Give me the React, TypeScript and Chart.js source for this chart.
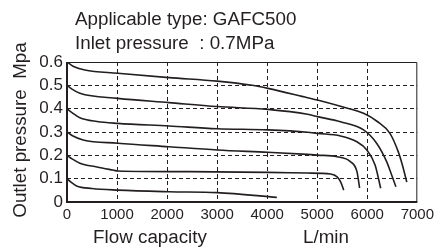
import React, { useEffect, useRef } from "react";
import { Chart, registerables } from "chart.js";

Chart.register(...registerables);

const INK = "#231f20";
const FAMILY = "'Liberation Sans', Arial, sans-serif";

const titleLine1 = "Applicable type: GAFC500";
const titleLine2 = "Inlet pressure  : 0.7MPa";
const yTitle = "Outlet pressure  Mpa";
const xTitle = "Flow capacity";
const xUnit = "L/min";

const xTicks = [0, 1000, 2000, 3000, 4000, 5000, 6000, 7000];
const yTicks = [0, 0.1, 0.2, 0.3, 0.4, 0.5, 0.6];

const set06X = [0, 120, 356, 1015, 2037, 3000, 3700, 4014, 4805, 5003, 5500, 5926, 6200, 6453, 6618, 6700, 6790];
const set06Y = [0.6, 0.582, 0.566, 0.552, 0.533, 0.518, 0.5, 0.487, 0.447, 0.437, 0.408, 0.38, 0.345, 0.294, 0.216, 0.16, 0.085];

const set05X = [0, 100, 257, 1015, 2037, 3000, 4014, 4805, 5003, 5464, 5926, 6190, 6387, 6480, 6572];
const set05Y = [0.5, 0.484, 0.466, 0.444, 0.426, 0.409, 0.397, 0.376, 0.366, 0.344, 0.309, 0.251, 0.173, 0.12, 0.065];

const set04X = [0, 100, 257, 600, 1015, 2037, 3000, 4014, 4805, 5003, 5464, 5794, 5992, 6156, 6268];
const set04Y = [0.4, 0.383, 0.361, 0.345, 0.337, 0.326, 0.314, 0.309, 0.299, 0.294, 0.283, 0.258, 0.223, 0.159, 0.059];

const set03X = [0, 100, 323, 1015, 2037, 3000, 4014, 4805, 5003, 5398, 5662, 5794, 5847];
const set03Y = [0.3, 0.285, 0.266, 0.252, 0.237, 0.223, 0.213, 0.204, 0.201, 0.194, 0.173, 0.13, 0.06];

const set02X = [0, 100, 257, 600, 915, 1015, 2432, 4014, 4805, 5266, 5398, 5470, 5530];
const set02Y = [0.2, 0.185, 0.166, 0.15, 0.137, 0.133, 0.13, 0.127, 0.124, 0.12, 0.108, 0.085, 0.051];

const set01X = [0, 80, 191, 500, 1015, 2037, 3000, 4192];
const set01Y = [0.1, 0.085, 0.069, 0.058, 0.051, 0.044, 0.04, 0.02];

const seriesX = [set06X, set05X, set04X, set03X, set02X, set01X];
const seriesY = [set06Y, set05Y, set04Y, set03Y, set02Y, set01Y];
const seriesNames = ["0.6", "0.5", "0.4", "0.3", "0.2", "0.1"];

export default function App() {
  const ref = useRef<HTMLCanvasElement>(null);

  useEffect(() => {
    if (!ref.current) return;

    const decor = {
      id: "decor",
      afterDatasetsDraw(chart: any) {
        const ctx = chart.ctx;
        const a = chart.chartArea;
        ctx.save();
        ctx.strokeStyle = INK;
        ctx.setLineDash([]);
        ctx.lineWidth = 1;
        ctx.beginPath();
        ctx.moveTo(a.left, a.top + 0.5);
        ctx.lineTo(a.right - 0.5, a.top + 0.5);
        ctx.lineTo(a.right - 0.5, a.bottom);
        ctx.stroke();
        ctx.lineWidth = 2;
        ctx.beginPath();
        ctx.moveTo(a.left, a.top);
        ctx.lineTo(a.left, a.bottom);
        ctx.lineTo(a.right, a.bottom);
        ctx.stroke();
        ctx.restore();
      },
      afterDraw(chart: any) {
        const ctx = chart.ctx;
        ctx.save();
        ctx.fillStyle = INK;
        ctx.font = "18.8px " + FAMILY;
        ctx.textAlign = "left";
        ctx.textBaseline = "alphabetic";
        ctx.fillText(titleLine1, 75, 25);
        ctx.fillText(titleLine2, 75, 49);
        ctx.textAlign = "center";
        ctx.fillText(xTitle, 150, 243);
        ctx.fillText(xUnit, 326, 243);
        ctx.translate(26, 130);
        ctx.rotate(-Math.PI / 2);
        ctx.fillText(yTitle, 0, 0);
        ctx.restore();
      },
    };

    const gridColor = (c: any) => {
      const v = c.tick ? c.tick.value : null;
      return v === 0 || v === 7000 || v === 0.6 ? "rgba(0,0,0,0)" : INK;
    };

    const chart = new Chart(ref.current, {
      type: "line",
      data: {
        datasets: seriesX.map((xs, i) => ({
          label: seriesNames[i],
          data: xs.map((x, j) => ({ x, y: seriesY[i][j] })),
          borderColor: INK,
          borderWidth: 1.6,
          pointRadius: 0,
          fill: false,
          cubicInterpolationMode: "monotone" as const,
        })),
      },
      options: {
        responsive: false,
        animation: false,
        devicePixelRatio: 1,
        layout: { padding: { top: 62, right: 17, left: 0, bottom: 0 } },
        plugins: {
          legend: { display: false },
          tooltip: { enabled: false },
          title: { display: false },
        },
        scales: {
          x: {
            type: "linear",
            min: 0,
            max: 7000,
            afterBuildTicks: (s: any) => {
              s.ticks = xTicks.map((v) => ({ value: v }));
            },
            afterFit: (s: any) => {
              s.height = 49;
            },
            ticks: {
              color: INK,
              font: { size: 15, family: FAMILY },
              padding: 4,
              maxRotation: 0,
              autoSkip: false,
              callback: (v: any) => String(v),
            },
            grid: { color: gridColor, lineWidth: 1, drawTicks: false },
            border: { display: false, dash: [4, 3] },
          },
          y: {
            type: "linear",
            min: 0,
            max: 0.6,
            afterBuildTicks: (s: any) => {
              s.ticks = yTicks.map((v) => ({ value: v }));
            },
            afterFit: (s: any) => {
              s.width = 67;
            },
            ticks: {
              color: INK,
              font: { size: 17, family: FAMILY },
              padding: 4,
              autoSkip: false,
              callback: (v: any) => (Number(v) === 0 ? "0" : Number(v).toFixed(1)),
            },
            grid: { color: gridColor, lineWidth: 1, drawTicks: false },
            border: { display: false, dash: [4, 3] },
          },
        },
      },
      plugins: [decor],
    });

    return () => chart.destroy();
  }, []);

  return (
    <div style={{ position: "fixed", left: 0, top: 0, width: 438, height: 251, background: "#fff" }}>
      <canvas ref={ref} width={438} height={251} style={{ display: "block", width: 438, height: 251 }} />
    </div>
  );
}
